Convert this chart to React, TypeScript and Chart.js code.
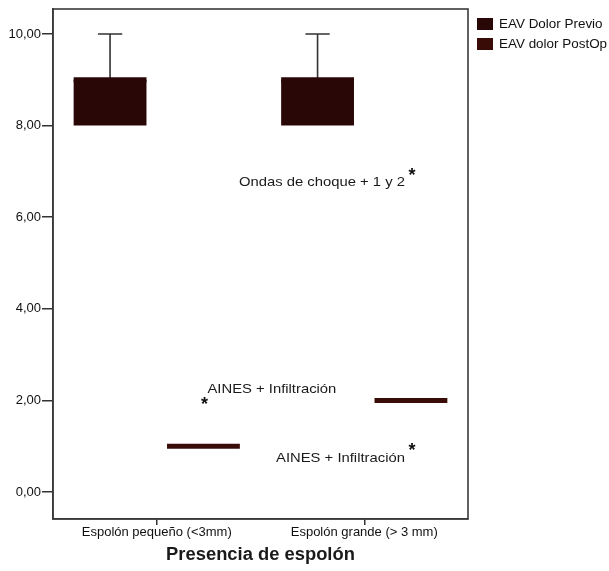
import React, { useEffect, useRef } from "react";
import { Chart, registerables } from "chart.js";

Chart.register(...registerables);

const categories = ["Espolón pequeño (<3mm)", "Espolón grande (> 3 mm)"];
const seriesLabels = ["EAV Dolor Previo", "EAV dolor PostOp"];
const xAxisTitle = "Presencia de espolón";

// Box plot statistics per category
const previoMin = [8, 8];
const previoQ1 = [8, 8];
const previoMedian = [9, 9];
const previoQ3 = [9, 9];
const previoMax = [10, 10];

const postopMin = [1, 2];
const postopQ1 = [1, 2];
const postopMedian = [1, 2];
const postopQ3 = [1, 2];
const postopMax = [1, 2];

// Outliers (PostOp series)
const outlierCategory = [0, 1, 1];
const outlierValue = [2, 7, 1];
const outlierLabel = ["AINES + Infiltración", "Ondas de choque + 1 y 2", "AINES + Infiltración"];

const yTickValues = [0, 2, 4, 6, 8, 10];

const seriesColors = ["#2a0707", "#3a0c07"];

// label placement relative to the outlier marker (style only)
const labelPlacement = [
  { dx: 3, dy: -7, align: "left" as CanvasTextAlign },
  { dx: -7, dy: 15, align: "right" as CanvasTextAlign },
  { dx: -7, dy: 16, align: "right" as CanvasTextAlign },
];

const FONT = "'Liberation Sans', Arial, Helvetica, sans-serif";

const stats = [
  { min: previoMin, q1: previoQ1, med: previoMedian, q3: previoQ3, max: previoMax },
  { min: postopMin, q1: postopQ1, med: postopMedian, q3: postopQ3, max: postopMax },
];

function textStretched(ctx: CanvasRenderingContext2D, text: string, x: number, y: number, align: CanvasTextAlign, sx: number) {
  ctx.save();
  ctx.translate(x, y);
  ctx.scale(sx, 1);
  ctx.textAlign = align;
  ctx.textBaseline = "alphabetic";
  ctx.fillText(text, 0, 0);
  ctx.restore();
}

const boxPlugin = {
  id: "boxExtras",
  beforeDraw(chart: any) {
    const ctx = chart.ctx;
    ctx.save();
    ctx.fillStyle = "#ffffff";
    ctx.fillRect(0, 0, chart.width, chart.height);
    ctx.restore();
  },
  afterDatasetsDraw(chart: any) {
    const ctx = chart.ctx;
    const y = chart.scales.y;
    ctx.save();
    stats.forEach((s, d) => {
      const meta = chart.getDatasetMeta(d);
      meta.data.forEach((bar: any, i: number) => {
        const x = bar.x;
        const w = bar.width;
        const cap = w / 3;
        ctx.strokeStyle = "#333333";
        ctx.lineWidth = 1.6;
        if (s.max[i] > s.q3[i]) {
          const yt = y.getPixelForValue(s.max[i]);
          const yb = y.getPixelForValue(s.q3[i]);
          ctx.beginPath();
          ctx.moveTo(x, yb);
          ctx.lineTo(x, yt);
          ctx.moveTo(x - cap / 2, yt);
          ctx.lineTo(x + cap / 2, yt);
          ctx.stroke();
        }
        if (s.min[i] < s.q1[i]) {
          const yt = y.getPixelForValue(s.q1[i]);
          const yb = y.getPixelForValue(s.min[i]);
          ctx.beginPath();
          ctx.moveTo(x, yt);
          ctx.lineTo(x, yb);
          ctx.moveTo(x - cap / 2, yb);
          ctx.lineTo(x + cap / 2, yb);
          ctx.stroke();
        }
        const ym = y.getPixelForValue(s.med[i]);
        ctx.strokeStyle = seriesColors[d];
        ctx.lineWidth = 5;
        ctx.beginPath();
        ctx.moveTo(x - w / 2, ym);
        ctx.lineTo(x + w / 2, ym);
        ctx.stroke();
      });
    });

    const meta = chart.getDatasetMeta(1);
    outlierValue.forEach((v, k) => {
      const bar: any = meta.data[outlierCategory[k]];
      const x = bar.x + 1;
      const yy = y.getPixelForValue(v);
      ctx.fillStyle = "#111111";
      ctx.font = `bold 18px ${FONT}`;
      ctx.textAlign = "center";
      ctx.textBaseline = "alphabetic";
      const m = ctx.measureText("*");
      const off = (m.actualBoundingBoxAscent - m.actualBoundingBoxDescent) / 2;
      ctx.fillText("*", x, yy + off);
      const p = labelPlacement[k];
      ctx.font = `13px ${FONT}`;
      ctx.fillStyle = "#1a1a1a";
      textStretched(ctx, outlierLabel[k], x + p.dx, yy + p.dy, p.align, 1.14);
    });
    ctx.restore();
  },
  afterDraw(chart: any) {
    const ctx = chart.ctx;
    const a = chart.chartArea;
    ctx.save();
    ctx.strokeStyle = "#3a3a3a";
    ctx.lineWidth = 1.6;
    ctx.strokeRect(a.left, a.top, a.right - a.left, a.bottom - a.top);
    chart.data.datasets.forEach((ds: any, k: number) => {
      const ly = 18 + k * 20;
      ctx.fillStyle = ds.backgroundColor;
      ctx.fillRect(a.right + 9, ly, 16, 12);
      ctx.fillStyle = "#111111";
      ctx.font = `12px ${FONT}`;
      textStretched(ctx, ds.label, a.right + 31, ly + 10, "left", 1.12);
    });
    ctx.font = `bold 18px ${FONT}`;
    ctx.fillStyle = "#1a1a1a";
    textStretched(ctx, xAxisTitle, (a.left + a.right) / 2, 560, "center", 1.02);
    ctx.restore();
  },
};

export default function App() {
  const ref = useRef<HTMLCanvasElement>(null);
  useEffect(() => {
    if (!ref.current) return;
    const chart = new Chart(ref.current, {
      type: "bar",
      data: {
        labels: categories,
        datasets: seriesLabels.map((label, d) => ({
          label,
          data: categories.map((_, i) => [stats[d].q1[i], stats[d].q3[i]]) as any,
          backgroundColor: seriesColors[d],
          borderWidth: 0,
          categoryPercentage: 0.9,
          barPercentage: 0.78,
        })),
      },
      options: {
        responsive: false,
        animation: false,
        layout: { padding: { top: 9, right: 141, left: 0, bottom: 0 } },
        plugins: { legend: { display: false }, tooltip: { enabled: false } },
        scales: {
          x: {
            type: "category",
            offset: true,
            grid: { display: true, offset: false, drawOnChartArea: false, tickLength: 6, color: "#333333", lineWidth: 1.5 },
            border: { display: true, color: "#3a3a3a", width: 1.6 },
            ticks: { color: "#111111", font: { family: FONT, size: 13 }, padding: 0, maxRotation: 0 },
            afterFit: (s: any) => { s.height = 52; },
          },
          y: {
            type: "linear",
            min: -0.59,
            max: 10.546,
            afterBuildTicks: (s: any) => { s.ticks = yTickValues.map((v) => ({ value: v })); },
            grid: { display: true, drawOnChartArea: false, tickLength: 11, color: "#333333", lineWidth: 1.5 },
            border: { display: true, color: "#3a3a3a", width: 1.6 },
            ticks: {
              color: "#111111",
              font: { family: FONT, size: 13 },
              padding: 1,
              callback: (v: any) => Number(v).toFixed(2).replace(".", ","),
            },
            afterFit: (s: any) => { s.width = 53; },
          },
        },
      },
      plugins: [boxPlugin],
    });
    return () => chart.destroy();
  }, []);
  return (
    <div style={{ position: "fixed", left: 0, top: 0, width: 609, height: 571, background: "#fff" }}>
      <canvas ref={ref} width={609} height={571} style={{ display: "block" }} />
    </div>
  );
}
